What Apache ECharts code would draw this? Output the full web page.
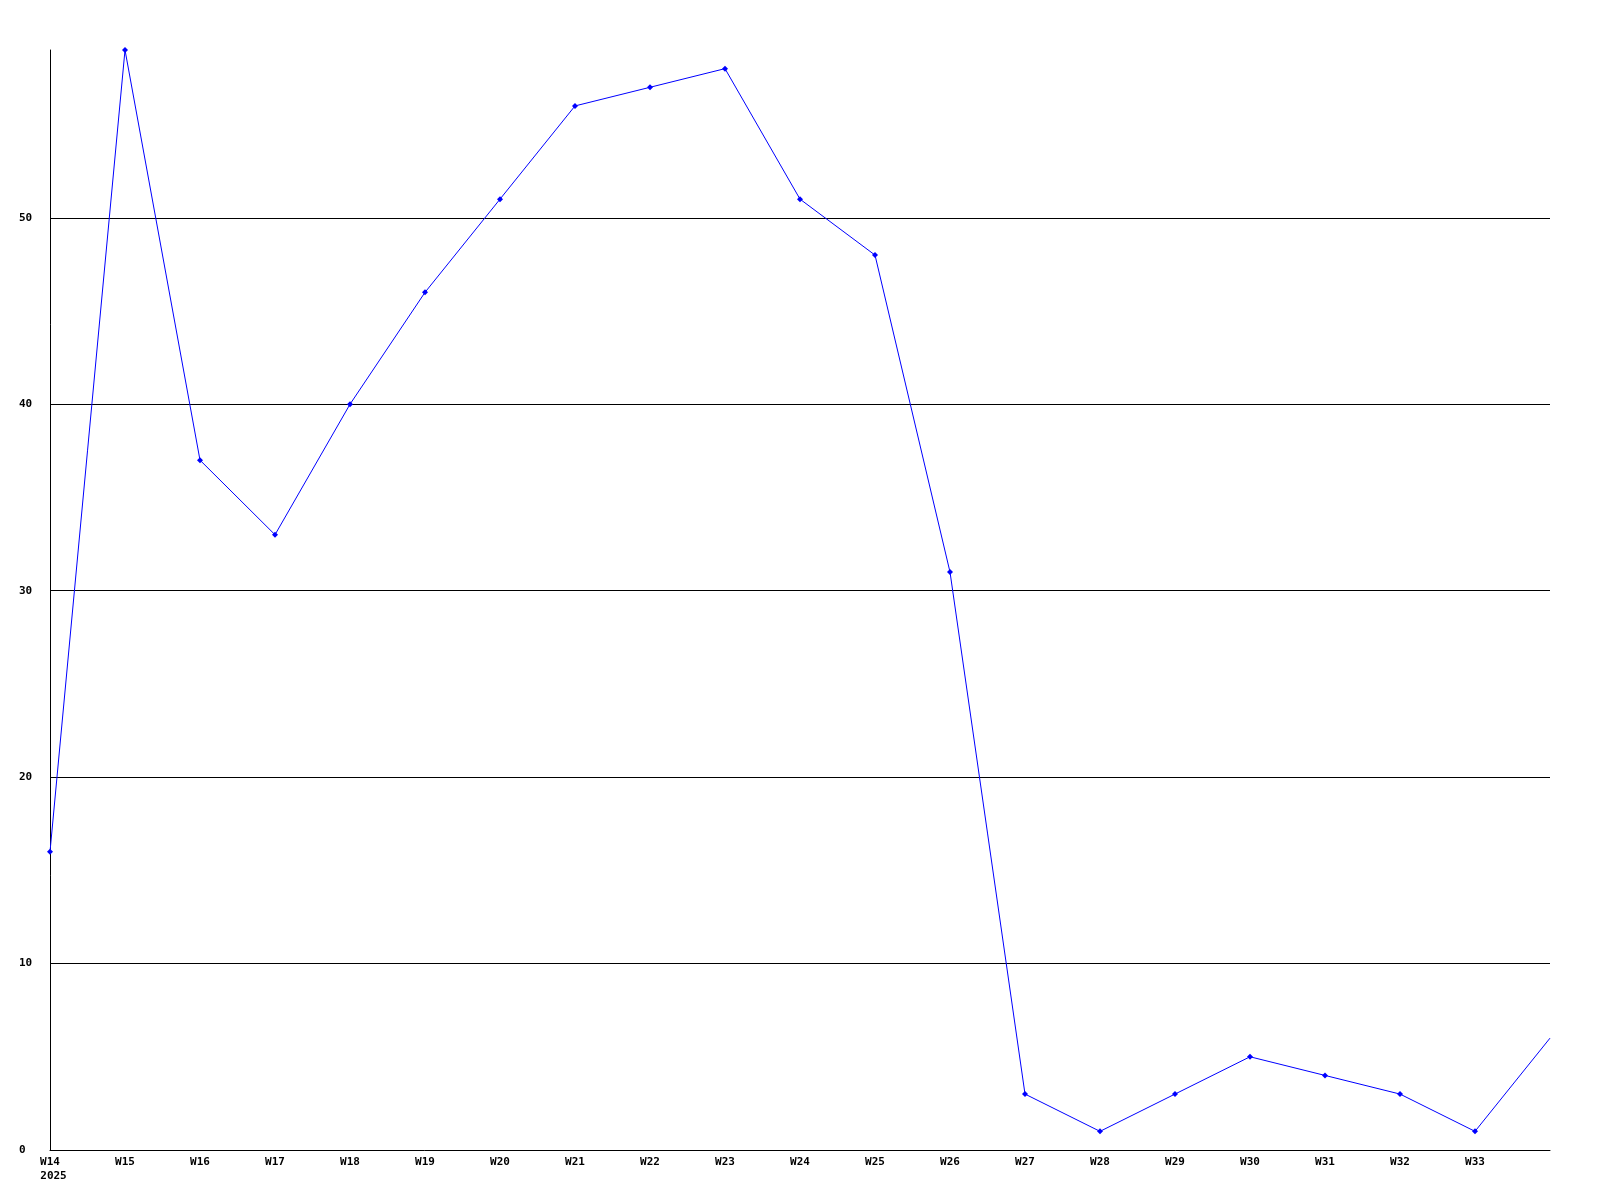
<!DOCTYPE html>
<html>
<head>
<meta charset="utf-8">
<script src="https://cdn.jsdelivr.net/npm/echarts@6/dist/echarts.min.js"></script>
<style>html,body{margin:0;padding:0;background:#fff;}#c{width:1600px;height:1200px;}</style>
</head>
<body>
<div id="c"></div>
<script>
const categories = ['W14','W15','W16','W17','W18','W19','W20','W21','W22','W23','W24','W25','W26','W27','W28','W29','W30','W31','W32','W33','W34'];
const values = [16,59,37,33,40,46,51,56,57,58,51,48,31,3,1,3,5,4,3,1,6];
const yearLabel = '2025';
const yTicks = [0,10,20,30,40,50];

const chart = echarts.init(document.getElementById('c'), null, {renderer:'canvas'});
const font = {fontFamily:'DejaVu Sans Mono', fontWeight:'bold', fontSize:11, color:'#000'};
chart.setOption({
  animation:false,
  backgroundColor:'#fff',
  grid:{left:50,right:50,top:50,bottom:50,containLabel:false},
  xAxis:{
    type:'category', data:categories, boundaryGap:false,
    axisLine:{lineStyle:{color:'#000',width:1}},
    axisTick:{show:false},
    splitLine:{show:false},
    axisLabel:Object.assign({}, font, {
      margin:7, interval:0,
      formatter:function(v,i){
        if (i === categories.length-1) return '';
        if (i === 0) return v + '\n{y|' + yearLabel + '}';
        return v;
      },
      rich:{y:Object.assign({}, font, {padding:[3,0,0,7]})}
    })
  },
  yAxis:{
    type:'value', min:0, max:59, interval:10,
    axisLine:{show:true,lineStyle:{color:'#000',width:1}},
    axisTick:{show:false},
    splitLine:{show:true,showMinLine:false,showMaxLine:false,lineStyle:{color:'#000',width:1}},
    axisLabel:Object.assign({}, font, {margin:31, align:'left', showMaxLabel:false,
      formatter:function(v){ return yTicks.indexOf(v) >= 0 ? String(v) : ''; }})
  },
  series:[{
    type:'line', data:values.map(function(v,i){ return i===values.length-1 ? {value:v, symbolSize:0} : v; }),
    symbol:'diamond', symbolSize:6, showAllSymbol:true,
    lineStyle:{color:'#0000ff',width:1},
    itemStyle:{color:'#0000ff'},
    clip:false
  }]
});
</script>
</body>
</html>
